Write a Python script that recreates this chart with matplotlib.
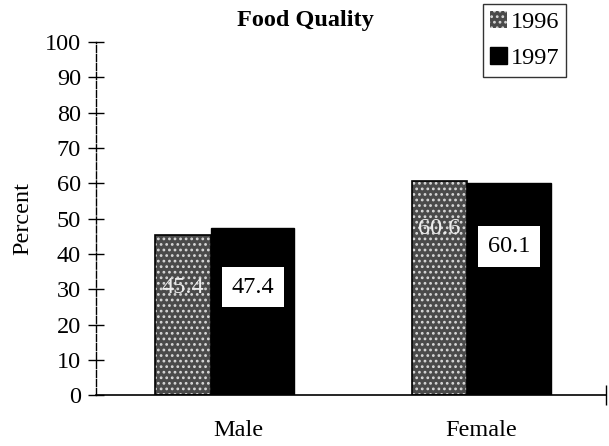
import numpy as np
import matplotlib
matplotlib.use("Agg")
from matplotlib import pyplot as plt
from matplotlib.patches import Patch
from matplotlib.transforms import ScaledTranslation

categories = ["Male", "Female"]
years = ["1996", "1997"]
values_1996 = [45.4, 60.6]
values_1997 = [47.4, 60.1]

plt.rcParams['font.family'] = ['Liberation Serif', 'DejaVu Serif']
plt.rcParams['hatch.linewidth'] = 1.2

FS = 17.5

fig = plt.figure(figsize=(6.09, 4.46), dpi=100)
ax = fig.add_axes([0.158, 0.114, 0.837, 0.792])

x = np.arange(len(categories))
# the 1996 bars are narrower than the 1997 ones in the original
off96, w96 = -0.162, 0.218
off97, w97 = 0.109, 0.324
ax.bar(x + off96, values_1996, width=w96, color="#4a4a4a",
       edgecolor="#d8d8d8", hatch="...", linewidth=0, zorder=2)
ax.bar(x + off96, values_1996, width=w96, fill=False,
       edgecolor="black", linewidth=1.2, zorder=3)
ax.bar(x + off97, values_1997, width=w97, color="black",
       edgecolor="black", zorder=2)

# label heights as a fraction of the bar, as placed in the original
frac96 = [0.67, 0.78]
frac97 = [0.645, 0.70]
for xi, v, f in zip(x, values_1996, frac96):
    ax.text(xi + off96, v * f, f"{v}", ha="center", va="center",
            fontsize=FS, color="#ececec", zorder=4)
for xi, v, f in zip(x, values_1997, frac97):
    ax.text(xi + off97, v * f, f"{v}", ha="center", va="center",
            fontsize=FS, color="black", zorder=4,
            bbox=dict(facecolor="white", edgecolor="none", pad=7))

ax.set_xlim(-0.501, 1.487)
ax.set_ylim(0, 100)
ax.set_yticks(np.arange(0, 101, 10))
ax.set_xticks(x)
ax.set_xticklabels(categories, fontsize=FS)
ax.tick_params(axis="x", length=0, pad=18)
# "Male" sits a little right of its group in the scan
lbl = ax.get_xticklabels()[0]
lbl.set_transform(lbl.get_transform() + ScaledTranslation(0.14, 0, fig.dpi_scale_trans))
ax.set_xticks([1.487], minor=True)
ax.tick_params(axis="x", which="minor", direction="inout", length=14, width=1)
ax.tick_params(axis="y", direction="inout", length=12, width=1, labelsize=FS, pad=5)
ax.set_ylabel("Percent", fontsize=FS, labelpad=8)

for s in ["top", "right"]:
    ax.spines[s].set_visible(False)
ax.spines["left"].set_linestyle((0, (5, 1.5)))
ax.spines["left"].set_linewidth(1)
ax.spines["bottom"].set_linewidth(1.2)

fig.text(0.501, 0.955, "Food Quality", ha="center", va="center",
         fontsize=FS, fontweight="bold")

handles = [Patch(facecolor="#4a4a4a", edgecolor="#d8d8d8", hatch="...", linewidth=0),
           Patch(facecolor="black", edgecolor="black")]
leg = fig.legend(handles, years, loc="upper right", bbox_to_anchor=(0.93, 0.992),
                 fontsize=FS, frameon=True, fancybox=False, edgecolor="black",
                 handlelength=0.7, handleheight=0.7, handletextpad=0.15,
                 labelspacing=0.6, borderpad=0.3, borderaxespad=0)
leg.get_frame().set_linewidth(1)

fig.savefig("out.png", dpi=100)
